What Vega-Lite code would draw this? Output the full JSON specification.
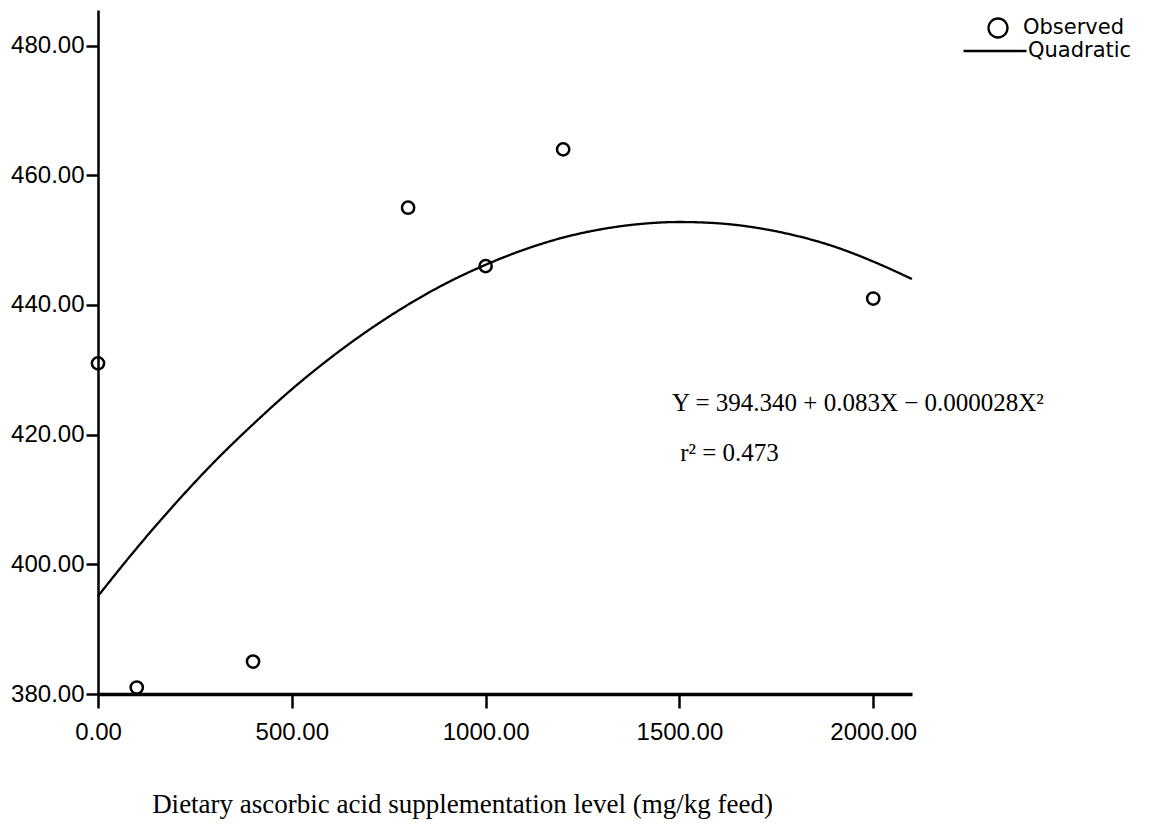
{
  "$schema": "https://vega.github.io/schema/vega-lite/v6.json",
  "width": 814,
  "height": 684,
  "autosize": "none",
  "padding": {"left": 98, "top": 10, "right": 259, "bottom": 139},
  "background": "white",
  "config": {"view": {"stroke": null}},
  "datasets": {
    "observed": [
      {"x": 0, "y": 431},
      {"x": 100, "y": 381},
      {"x": 400, "y": 385},
      {"x": 800, "y": 455},
      {"x": 1000, "y": 446},
      {"x": 1200, "y": 464},
      {"x": 2000, "y": 441}
    ],
    "fit": [
      {"x": 0, "y": 395.1},
      {"x": 100, "y": 402.5},
      {"x": 200, "y": 409.4},
      {"x": 300, "y": 415.8},
      {"x": 400, "y": 421.6},
      {"x": 500, "y": 427.0},
      {"x": 600, "y": 431.85},
      {"x": 700, "y": 436.2},
      {"x": 800, "y": 440.05},
      {"x": 900, "y": 443.4},
      {"x": 1000, "y": 446.2},
      {"x": 1100, "y": 448.55},
      {"x": 1200, "y": 450.4},
      {"x": 1300, "y": 451.7},
      {"x": 1400, "y": 452.5},
      {"x": 1500, "y": 452.8},
      {"x": 1600, "y": 452.6},
      {"x": 1700, "y": 451.9},
      {"x": 1800, "y": 450.7},
      {"x": 1900, "y": 449.0},
      {"x": 2000, "y": 446.7},
      {"x": 2100, "y": 444.0}
    ],
    "notes": [
      {"x": 1481, "y": 423.7, "text": "Y = 394.340 + 0.083X − 0.000028X²"},
      {"x": 1502, "y": 415.96, "text": "r² = 0.473"}
    ]
  },
  "encoding": {
    "x": {
      "field": "x",
      "type": "quantitative",
      "scale": {"domain": [0, 2100], "nice": false, "zero": false},
      "axis": {
        "values": [0, 500, 1000, 1500, 2000],
        "format": ".2f",
        "grid": false,
        "domainColor": "black",
        "domainWidth": 3.5,
        "tickColor": "black",
        "tickWidth": 2.5,
        "tickSize": 14,
        "labelFont": "Liberation Sans",
        "labelFontSize": 24,
        "labelColor": "black",
        "labelPadding": 12,
        "labelFlush": false,
        "title": "Dietary ascorbic acid supplementation level (mg/kg feed)",
        "titleFont": "Liberation Serif",
        "titleFontSize": 27,
        "titleFontWeight": "normal",
        "titleColor": "black",
        "titleX": 364,
        "titleY": 118,
        "titleAlign": "center",
        "titleBaseline": "alphabetic"
      }
    },
    "y": {
      "field": "y",
      "type": "quantitative",
      "scale": {"domain": [380, 485.5], "nice": false, "zero": false},
      "axis": {
        "values": [380, 400, 420, 440, 460, 480],
        "format": ".2f",
        "grid": false,
        "domainColor": "black",
        "domainWidth": 2.5,
        "tickColor": "black",
        "tickWidth": 2.5,
        "tickSize": 12,
        "labelFont": "Liberation Sans",
        "labelFontSize": 24,
        "labelColor": "black",
        "labelPadding": 2,
        "labelFlush": false,
        "title": null
      }
    }
  },
  "layer": [
    {
      "data": {"name": "fit"},
      "mark": {"type": "line", "color": "black", "strokeWidth": 2.3, "interpolate": "monotone"},
      "encoding": {
        "strokeDash": {
          "datum": "Quadratic",
          "scale": {"range": [[1, 0]]},
          "legend": {
            "orient": "none",
            "legendX": 864,
            "legendY": 8,
            "title": null,
            "symbolType": "stroke",
            "symbolSize": 3969,
            "symbolStrokeColor": "black",
            "symbolStrokeWidth": 2.3,
            "labelFont": "DejaVu Sans",
            "labelFontSize": 21,
            "labelColor": "black",
            "labelOffset": 0,
            "padding": 0
          }
        }
      }
    },
    {
      "data": {"name": "observed"},
      "mark": {"type": "point", "shape": "circle", "filled": false, "color": "black", "size": 150, "strokeWidth": 2.5, "opacity": 1},
      "encoding": {
        "shape": {
          "datum": "Observed",
          "scale": {"range": ["circle"]},
          "legend": {
            "orient": "none",
            "legendX": 889,
            "legendY": 7,
            "title": null,
            "symbolSize": 361,
            "symbolStrokeColor": "black",
            "symbolFillColor": "transparent",
            "symbolStrokeWidth": 2.3,
            "symbolOpacity": 1,
            "labelFont": "DejaVu Sans",
            "labelFontSize": 21,
            "labelColor": "black",
            "labelOffset": 14,
            "padding": 0
          }
        }
      }
    },
    {
      "data": {"name": "notes"},
      "mark": {"type": "text", "align": "left", "baseline": "alphabetic", "font": "Liberation Serif", "fontSize": 25, "color": "black"},
      "encoding": {
        "text": {"field": "text", "type": "nominal"}
      }
    }
  ]
}
